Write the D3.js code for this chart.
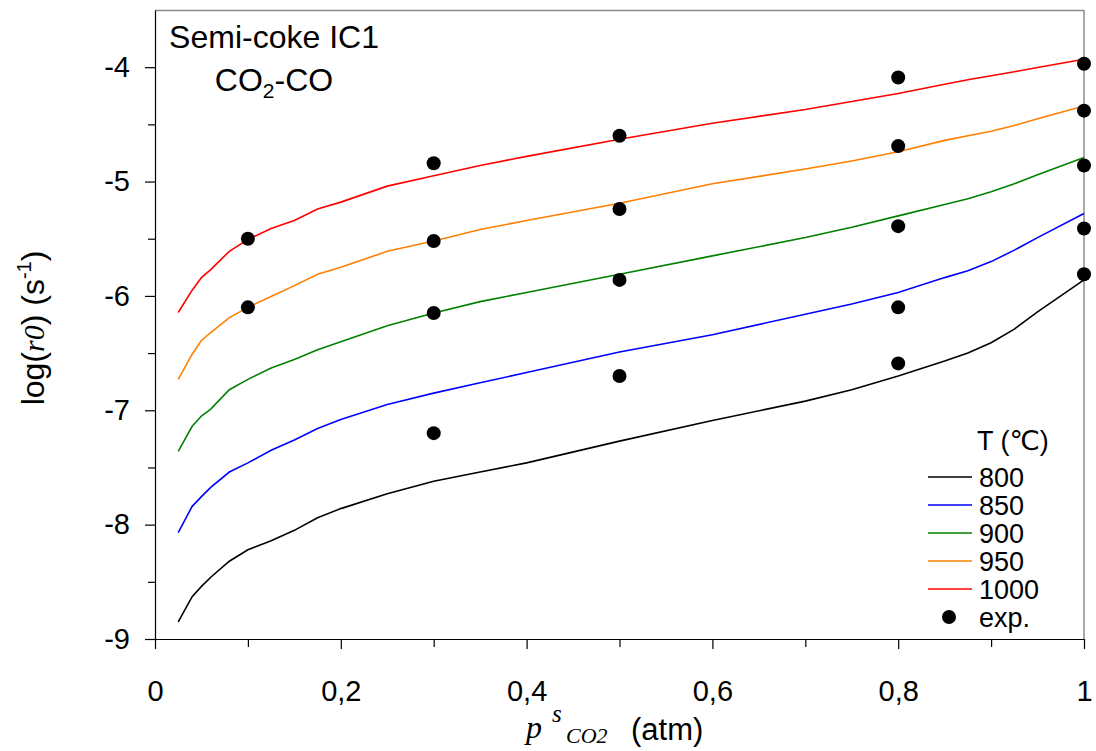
<!DOCTYPE html>
<html>
<head>
<meta charset="utf-8">
<script src="https://cdn.jsdelivr.net/npm/d3@7"></script>
<style>
    body { margin: 0; background: #fff; }
    svg { display: block; }
</style>
</head>
<body>
<div id="container"></div>
<script>
// partial pressure of CO2 (atm) used for the model curves
const pCO2 = [0.025, 0.04, 0.05, 0.06, 0.08, 0.1, 0.125, 0.15, 0.175, 0.2, 0.25, 0.3, 0.35, 0.4,
    0.5, 0.6, 0.7, 0.75, 0.8, 0.85, 0.875, 0.9, 0.925, 0.95, 1.0]

// log(r0) model curves, one per temperature
const logT800 = [-8.85, -8.63, -8.54, -8.46, -8.32, -8.22, -8.14, -8.05, -7.94, -7.86, -7.73, -7.62, -7.54, -7.46,
    -7.27, -7.09, -6.92, -6.82, -6.70, -6.57, -6.50, -6.41, -6.29, -6.14, -5.86]
const logT850 = [-8.07, -7.84, -7.755, -7.675, -7.54, -7.46, -7.35, -7.26, -7.16, -7.08, -6.95, -6.85, -6.76, -6.67,
    -6.49, -6.34, -6.16, -6.07, -5.97, -5.84, -5.78, -5.70, -5.60, -5.49, -5.28]
const logT900 = [-7.36, -7.14, -7.05, -6.99, -6.82, -6.73, -6.63, -6.555, -6.47, -6.40, -6.26, -6.15, -6.05, -5.97,
    -5.81, -5.65, -5.49, -5.40, -5.30, -5.20, -5.15, -5.09, -5.02, -4.94, -4.79]
const logT950 = [-6.73, -6.51, -6.39, -6.32, -6.19, -6.10, -6.005, -5.91, -5.81, -5.75, -5.61, -5.52, -5.42, -5.34,
    -5.19, -5.02, -4.89, -4.82, -4.74, -4.64, -4.60, -4.56, -4.51, -4.45, -4.34]
const logT1000 = [-6.145, -5.95, -5.84, -5.77, -5.61, -5.506, -5.41, -5.34, -5.24, -5.18, -5.04, -4.95, -4.86, -4.78,
    -4.63, -4.49, -4.37, -4.30, -4.23, -4.15, -4.11, -4.075, -4.04, -4.003, -3.93]

const tempLabels = ['800', '850', '900', '950', '1000']
const curves = [logT800, logT850, logT900, logT950, logT1000]

// experimental points
const expP = [0.1, 0.1,
    0.3, 0.3, 0.3, 0.3,
    0.5, 0.5, 0.5, 0.5,
    0.8, 0.8, 0.8, 0.8, 0.8,
    1.0, 1.0, 1.0, 1.0, 1.0]
const expLog = [-5.50, -6.10,
    -4.84, -5.52, -6.15, -7.20,
    -4.60, -5.24, -5.86, -6.70,
    -4.09, -4.69, -5.39, -6.10, -6.59,
    -3.97, -4.38, -4.86, -5.41, -5.81]

const xTickValues = [0, 0.2, 0.4, 0.6, 0.8, 1]
const xTickLabels = ['0', '0,2', '0,4', '0,6', '0,8', '1']
const xMinorTicks = [0.1, 0.3, 0.5, 0.7, 0.9]
const yTickValues = [-9, -8, -7, -6, -5, -4]
const yTickLabels = ['-9', '-8', '-7', '-6', '-5', '-4']
const yMinorTicks = [-8.5, -7.5, -6.5, -5.5, -4.5]

const lineColors = ['#000000', '#0000ff', '#008000', '#ff7f00', '#ff0000']

const config = {
    width: 1096,
    height: 751,
    margin: { left: 155, right: 12, top: 10, bottom: 112 },
    sans: "'Liberation Sans', Arial, 'DejaVu Sans', sans-serif",
    serif: "'Liberation Serif', 'Times New Roman', serif",
}
const chart = {
    width: config.width - config.margin.left - config.margin.right,
    height: config.height - config.margin.top - config.margin.bottom,
}

const svg = d3.select('#container')
    .append('svg')
    .attr('width', config.width)
    .attr('height', config.height)
    .attr('viewBox', `0 0 ${config.width} ${config.height}`)

const root = svg.append('g')
    .attr('transform', `translate(${config.margin.left}, ${config.margin.top})`)

const scaleX = d3.scaleLinear().domain([0, 1]).range([0, chart.width])
const scaleY = d3.scaleLinear().domain([-9, -3.5]).range([chart.height, 0])

// frame: top and right are grey
root.append('line')
    .attr('x1', 0).attr('x2', chart.width).attr('y1', 0.5).attr('y2', 0.5)
    .attr('stroke', '#8c8c8c').attr('stroke-width', 1.5)
root.append('line')
    .attr('x1', chart.width).attr('x2', chart.width).attr('y1', 0).attr('y2', chart.height)
    .attr('stroke', '#8c8c8c').attr('stroke-width', 1.5)

// axes
const xAxis = root.append('g')
    .attr('transform', `translate(0, ${chart.height})`)
    .call(d3.axisBottom(scaleX)
        .tickValues(xTickValues)
        .tickSize(10)
        .tickSizeOuter(0)
        .tickPadding(31)
        .tickFormat((d, i) => xTickLabels[i]))
root.append('g')
    .attr('transform', `translate(0, ${chart.height})`)
    .call(d3.axisBottom(scaleX).tickValues(xMinorTicks).tickSize(8).tickFormat(''))
    .call(g => g.select('.domain').remove())

const yAxis = root.append('g')
    .call(d3.axisLeft(scaleY)
        .tickValues(yTickValues)
        .tickSize(10)
        .tickSizeOuter(0)
        .tickPadding(15)
        .tickFormat((d, i) => yTickLabels[i]))
root.append('g')
    .call(d3.axisLeft(scaleY).tickValues(yMinorTicks).tickSize(7).tickFormat(''))
    .call(g => g.select('.domain').remove())

root.selectAll('.tick line, .domain').attr('stroke', '#000').attr('stroke-width', 1.2)
root.selectAll('.tick text')
    .attr('font-family', config.sans)
    .attr('font-size', 29)
    .attr('fill', '#000')

// model curves
const line = d3.line()
    .x(d => scaleX(d[0]))
    .y(d => scaleY(d[1]))

root.selectAll('.curve')
    .data(curves)
    .enter()
    .append('path')
    .attr('class', 'curve')
    .attr('fill', 'none')
    .attr('stroke', (d, i) => lineColors[i])
    .attr('stroke-width', 1.6)
    .attr('d', d => line(d.map((v, i) => [pCO2[i], v])))

// experimental points
root.selectAll('.exp')
    .data(expP.map((p, i) => [p, expLog[i]]))
    .enter()
    .append('circle')
    .attr('class', 'exp')
    .attr('cx', d => scaleX(d[0]))
    .attr('cy', d => scaleY(d[1]))
    .attr('r', 7)
    .attr('fill', '#000')

// annotation
const note = svg.append('g').attr('font-family', config.sans).attr('fill', '#000')
note.append('text')
    .attr('x', 274).attr('y', 48)
    .attr('text-anchor', 'middle')
    .attr('font-size', 32)
    .text('Semi-coke IC1')
const note2 = note.append('text')
    .attr('x', 274).attr('y', 91)
    .attr('text-anchor', 'middle')
    .attr('font-size', 32)
note2.append('tspan').text('CO')
note2.append('tspan').attr('font-size', 21).attr('dy', 7).text('2')
note2.append('tspan').attr('dy', -7).text('-CO')

// legend
const legend = svg.append('g')
    .attr('font-family', config.sans)
    .attr('font-size', 27)
    .attr('fill', '#000')
legend.append('text')
    .attr('x', 977).attr('y', 450)
    .text('T (℃)')
const legendRows = legend.selectAll('.row')
    .data(tempLabels)
    .enter()
    .append('g')
    .attr('class', 'row')
    .attr('transform', (d, i) => `translate(0, ${477 + i * 28})`)
legendRows.append('line')
    .attr('x1', 928).attr('x2', 972)
    .attr('stroke', (d, i) => lineColors[i])
    .attr('stroke-width', 1.6)
legendRows.append('text')
    .attr('x', 979).attr('y', 10)
    .text(d => d)
legend.append('circle')
    .attr('cx', 949).attr('cy', 617).attr('r', 7).attr('fill', '#000')
legend.append('text')
    .attr('x', 979).attr('y', 627)
    .text('exp.')

// axis titles
const xLabel = svg.append('g').attr('fill', '#000')
xLabel.append('text')
    .attr('x', 526).attr('y', 738)
    .attr('font-family', config.serif).attr('font-style', 'italic').attr('font-size', 32)
    .text('p')
xLabel.append('text')
    .attr('x', 552).attr('y', 722)
    .attr('font-family', config.serif).attr('font-style', 'italic').attr('font-size', 25)
    .text('s')
xLabel.append('text')
    .attr('x', 566).attr('y', 743)
    .attr('font-family', config.serif).attr('font-style', 'italic').attr('font-size', 22)
    .text('CO2')
xLabel.append('text')
    .attr('x', 631).attr('y', 740)
    .attr('font-family', config.sans).attr('font-size', 31)
    .text('(atm)')

const yLabel = svg.append('text')
    .attr('transform', 'translate(44, 328) rotate(-90)')
    .attr('text-anchor', 'middle')
    .attr('font-family', config.sans)
    .attr('font-size', 32)
    .attr('fill', '#000')
yLabel.append('tspan').text('log(')
yLabel.append('tspan').attr('font-family', config.serif).attr('font-style', 'italic').attr('font-size', 30).text('r0')
yLabel.append('tspan').text(') (s')
yLabel.append('tspan').attr('font-size', 20).attr('dy', -13).text('-1')
yLabel.append('tspan').attr('dy', 13).text(')')
</script>
</body>
</html>
